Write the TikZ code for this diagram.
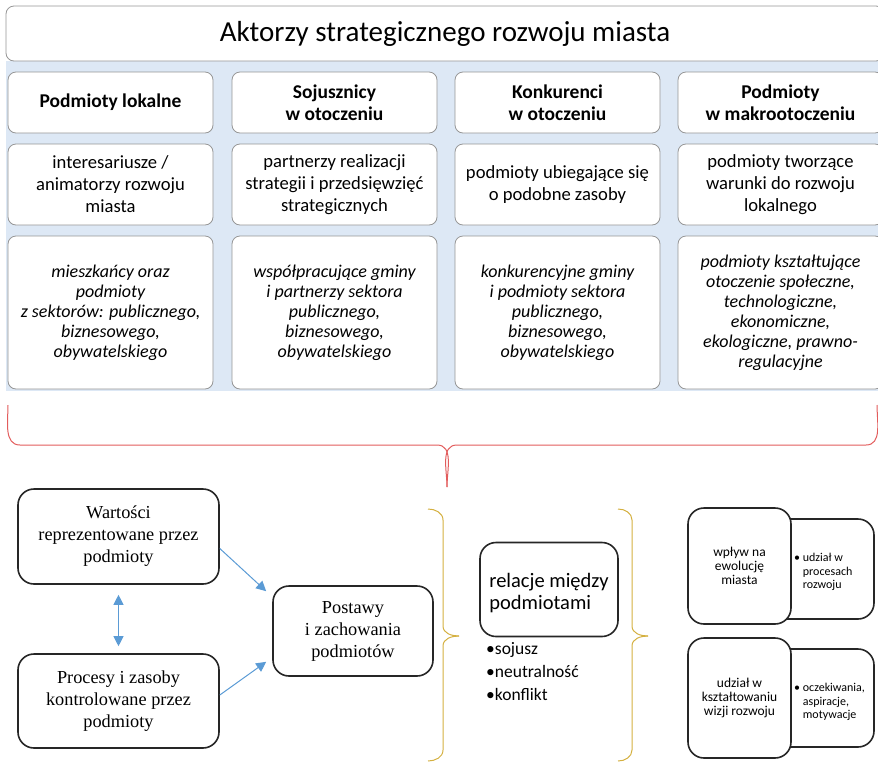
\documentclass[tikz,border=0pt]{standalone}
\usepackage{fontspec}
\setmainfont{Carlito}
\newfontfamily\timesf{Liberation Serif}
\usetikzlibrary{arrows.meta}
\definecolor{bgblue}{RGB}{221,232,245}
\definecolor{boxgray}{RGB}{150,150,150}
\definecolor{bracered}{RGB}{226,92,92}
\definecolor{braceyel}{RGB}{212,176,64}
\definecolor{arrblue}{RGB}{91,155,213}
\tikzset{
  topbox/.style={draw=boxgray, fill=white, rounded corners=8pt, line width=0.8pt, inner sep=0pt, align=center},
  botbox/.style={draw=black!85, fill=white, rounded corners=16pt, line width=1.6pt, inner sep=0pt, align=center},
  hdr/.style={topbox, minimum width=205pt, minimum height=61pt, font=\fontsize{19.5}{22}\selectfont\bfseries},
  rowtwo/.style={topbox, minimum width=205pt, minimum height=81pt, font=\fontsize{18.6}{22}\selectfont},
  rowthree/.style={topbox, minimum width=205pt, minimum height=153pt, font=\fontsize{18}{20}\selectfont\itshape},
  tbox/.style={botbox, font=\timesf\fontsize{18.3}{22}\selectfont},
  barrow/.style={draw=arrblue, line width=1pt, -{Triangle[width=10pt,length=10pt]}},
  bracey/.style={draw=braceyel, line width=1pt},
  smalltxt/.style={inner sep=0pt, align=left, font=\fontsize{12}{13.2}\selectfont},
}
\begin{document}
\begin{tikzpicture}[x=1pt,y=-1pt]
\useasboundingbox (0,0) rectangle (878,761);
\clip (0,0) rectangle (878,761);
% background
\fill[bgblue] (6,61) rectangle (884,391);
% title
\node[topbox, minimum width=878pt, minimum height=55pt, font=\fontsize{29}{32}\selectfont] (title) at (445,33.5) {Aktorzy strategicznego rozwoju miasta};
% headers
\node[hdr] (h1) at (110.5,102.5) {Podmioty lokalne};
\node[hdr] (h2) at (334.5,102.5) {Sojusznicy\\w otoczeniu};
\node[hdr] (h3) at (557.5,102.5) {Konkurenci\\w otoczeniu};
\node[hdr] (h4) at (780.5,102.5) {Podmioty\\w makrootoczeniu};
% row 2
\node[rowtwo] (r1) at (110.5,184.5) {interesariusze /\\animatorzy rozwoju\\miasta};
\node[rowtwo] (r2) at (334.5,184.5) {partnerzy realizacji\\strategii i przedsięwzięć\\strategicznych};
\node[rowtwo] (r3) at (557.5,184.5) {podmioty ubiegające się\\o podobne zasoby};
\node[rowtwo] (r4) at (780.5,184.5) {podmioty tworzące\\warunki do rozwoju\\lokalnego};
% row 3
\node[rowthree] (s1) at (110.5,312.5) {mieszkańcy oraz\\podmioty\\z sektorów: publicznego,\\biznesowego,\\obywatelskiego};
\node[rowthree] (s2) at (334.5,312.5) {współpracujące gminy\\i partnerzy sektora\\publicznego,\\biznesowego,\\obywatelskiego};
\node[rowthree] (s3) at (557.5,312.5) {konkurencyjne gminy\\i podmioty sektora\\publicznego,\\biznesowego,\\obywatelskiego};
\node[rowthree] (s4) at (780.5,312.5) {podmioty kształtujące\\otoczenie społeczne,\\technologiczne,\\ekonomiczne,\\ekologiczne, prawno-\\regulacyjne};
% red brace
\coordinate (rbl) at (8,405);
\coordinate (rbt) at (447,487);
\coordinate (rbr) at (877,405);
\draw[bracered, line width=1pt] (rbl) to[out=-90,in=180] (20,445) -- (437,445) to[out=0,in=90] (rbt);
\draw[bracered, line width=1pt] (rbt) to[out=90,in=180] (457,445) -- (866,445) to[out=0,in=-90] (rbr);
% bottom left
\node[tbox, minimum width=201pt, minimum height=95pt] (wart) at (118.5,536.5) {Wartości\\reprezentowane przez\\podmioty};
\node[tbox, minimum width=201pt, minimum height=94pt] (proc) at (118.5,701) {Procesy i zasoby\\kontrolowane przez\\podmioty};
\node[tbox, minimum width=160pt, minimum height=90pt] (post) at (353,631) {Postawy\\i zachowania\\podmiotów};
\draw[barrow, {Triangle[width=10pt,length=10pt]}-{Triangle[width=10pt,length=10pt]}] ([yshift=-10pt]wart.south) -- ([yshift=7pt]proc.north);
\draw[barrow] ([yshift=-12pt]wart.east) -- ([xshift=-6pt,yshift=-6pt]post.north west);
\draw[barrow] ([yshift=6pt]proc.east) -- ([xshift=-6pt,yshift=15pt]post.south west);
% yellow braces
\coordinate (yb1) at (459,636);
\draw[bracey] (428,509) to[out=0,in=90] (443,520) -- (443,626) to[out=-90,in=180] (yb1);
\draw[bracey] (yb1) to[out=180,in=90] (443,646) -- (443,750) to[out=-90,in=0] (428,761);
\coordinate (yb2) at (648,636);
\draw[bracey] (618,509) to[out=0,in=90] (632,520) -- (632,626) to[out=-90,in=180] (yb2);
\draw[bracey] (yb2) to[out=180,in=90] (632,646) -- (632,750) to[out=-90,in=0] (618,761);
% relacje
\node[botbox, minimum width=138pt, minimum height=94pt] (rel) at (549,589.5) {};
\node[inner sep=0pt, align=left, font=\fontsize{20.5}{22}\selectfont] (reltxt) at (549,593) {relacje między\\podmiotami};
\node[anchor=north west, inner sep=0pt, align=left, font=\fontsize{17.5}{23}\selectfont] (list) at (486,642.5) {•sojusz\\•neutralność\\•konflikt};
% right boxes
\node[botbox, minimum width=104pt, minimum height=100pt] (ur) at (822,569) {};
\node[botbox, minimum width=103pt, minimum height=116pt, font=\fontsize{13.5}{13.8}\selectfont] (ub) at (739.5,566) {wpływ na\\ewolucję\\miasta};
\node[smalltxt, anchor=west] (ut) at (794,572) {• udział w\\\hphantom{• }procesach\\\hphantom{• }rozwoju};
\node[botbox, minimum width=104pt, minimum height=98pt] (lr) at (822,698) {};
\node[botbox, minimum width=103pt, minimum height=120pt, font=\fontsize{13.5}{13.8}\selectfont] (lb) at (739.5,698) {udział w\\kształtowaniu\\wizji rozwoju};
\node[smalltxt, anchor=west] (lt) at (794,702) {• oczekiwania,\\\hphantom{• }aspiracje,\\\hphantom{• }motywacje};
\end{tikzpicture}
\end{document}
